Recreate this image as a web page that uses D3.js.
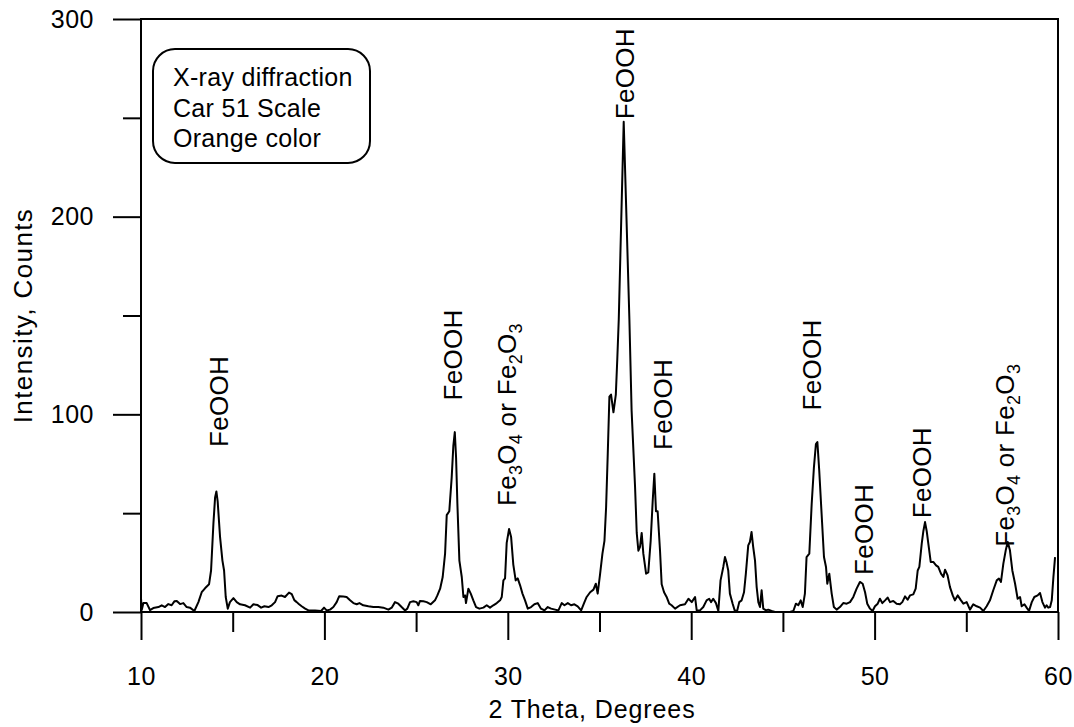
<!DOCTYPE html>
<html>
<head>
<meta charset="utf-8">
<script src="https://cdn.jsdelivr.net/npm/d3@7/dist/d3.min.js"></script>
<style>
  body { margin: 0; background: #fff; }
  svg { display: block; font-family: Arial, "Liberation Sans", sans-serif; }
  .tick text { font-size: 25px; fill: #000; }
  .tick line { stroke: #000; stroke-width: 2px; }
</style>
</head>
<body>
<script>
var
    width = 1074,
    height = 727;

// 2 theta positions and counts
var twoTheta = [10.0,10.04,10.13,10.31,10.49,10.67,10.95,11.13,11.31,11.49,11.67,11.82,11.95,12.13,12.31,12.49,12.67,12.91,13.13,13.31,13.49,13.71,13.82,13.95,14.04,14.11,14.18,14.31,14.44,14.53,14.62,14.73,14.85,15.04,15.22,15.4,15.67,15.95,16.13,16.36,16.55,16.73,16.95,17.13,17.31,17.45,17.67,17.85,18.07,18.22,18.36,18.49,18.62,18.76,18.95,19.13,19.49,19.82,19.98,20.12,20.31,20.49,20.67,20.81,21.03,21.21,21.4,21.58,21.76,21.91,22.12,22.4,22.67,22.94,23.21,23.49,23.67,23.85,24.03,24.21,24.4,24.52,24.67,24.85,25.03,25.12,25.21,25.4,25.58,25.8,26.03,26.16,26.31,26.45,26.58,26.67,26.81,26.94,27.03,27.11,27.18,27.25,27.36,27.49,27.58,27.67,27.72,27.85,27.98,28.12,28.27,28.45,28.67,28.85,29.03,29.21,29.4,29.58,29.67,29.76,29.85,29.94,30.07,30.18,30.3,30.43,30.54,30.67,30.8,30.94,31.09,31.27,31.45,31.63,31.81,32.0,32.18,32.36,32.58,32.76,32.94,33.09,33.27,33.45,33.63,33.81,34.0,34.18,34.3,34.49,34.67,34.8,34.9,35.03,35.16,35.27,35.36,35.45,35.54,35.63,35.76,35.89,35.97,36.05,36.32,36.63,36.75,36.94,37.03,37.12,37.21,37.3,37.39,37.54,37.66,37.79,37.9,37.99,38.08,38.17,38.3,38.39,38.52,38.66,38.8,38.93,39.12,39.39,39.66,39.85,40.03,40.21,40.3,40.48,40.66,40.84,40.98,41.08,41.2,41.35,41.48,41.6,41.75,41.84,41.93,42.02,42.11,42.26,42.38,42.51,42.62,42.75,42.88,42.98,43.11,43.2,43.29,43.38,43.48,43.57,43.66,43.75,43.84,43.93,44.08,44.2,44.38,44.57,45.38,45.57,45.71,45.84,45.97,46.08,46.2,46.29,46.44,46.57,46.69,46.8,46.88,46.98,47.11,47.24,47.35,47.42,47.53,47.66,47.78,47.93,48.11,48.29,48.48,48.66,48.84,49.02,49.2,49.35,49.48,49.6,49.75,49.89,50.02,50.17,50.29,50.42,50.57,50.71,50.84,51.02,51.2,51.38,51.51,51.66,51.8,51.93,52.11,52.24,52.35,52.44,52.57,52.66,52.75,52.84,52.93,53.06,53.2,53.35,53.47,53.62,53.75,53.84,53.98,54.11,54.26,54.38,54.53,54.71,54.84,55.02,55.2,55.38,55.57,55.75,55.93,56.11,56.29,56.47,56.66,56.78,56.89,57.02,57.15,57.26,57.38,57.51,57.66,57.8,57.93,58.02,58.17,58.29,58.42,58.57,58.71,58.89,59.02,59.15,59.29,59.38,59.47,59.57,59.66,59.75,59.84];
var counts = [7,1,4.5,4.5,1,2,2.5,3.4,2.5,4,3.4,5.4,5.6,4,4.5,2.5,2.2,0.5,5,10,12,14,21,45,58,61,56,38,26,21,7.6,1.7,5,7,5,3.9,3.4,2.2,3.9,3.5,2.2,2.9,2.5,3.4,5,8,8.3,7.6,9.8,9,6,5,3.9,2.9,1.7,0.8,0.8,0.5,2.2,0.8,1.2,2.5,5,8,7.8,7.6,5.9,4.5,3.9,4.5,3.4,2.9,2.5,2.5,2.2,1.2,2.2,5,4.2,2.5,0.8,1.7,5,5.4,5,3.4,5.6,5.4,5,3.9,5.9,8.4,11.8,17.7,29.5,49,51,68,84,91,78,55,26,17.7,7.6,8.4,4.5,11.8,9.3,5.9,2.5,1.7,2.2,3.4,2.2,3.4,4.5,5.9,7.6,16,17,35,42,38,24,16,17,13.5,9.3,5.9,1.7,2.5,3.9,4.5,1.7,0.8,2.5,1.7,1.2,0.8,4.5,3.4,4.5,3.4,3.9,2.9,0.8,5,7.6,10,11.3,14.3,9.3,19,29.5,36,53,80,109,110,101,110,128,148,248,148,102,63,40,31,33,40,29.5,19.4,20,36,56,70,51,51,31,14,10,7.6,4.2,3.4,1.7,3.4,3.9,6.7,5,7.6,0.8,0.8,2.5,5.9,6.7,5,6.7,4.5,0.5,16,22.8,27.8,25,21,9.3,4.2,0.5,0.8,5,5.9,10,19.4,33.7,35.4,40.5,33,26,12.6,5,2.5,11,1.7,0.8,1.2,0.5,0,0,0.5,4.2,3.4,5.9,2.5,9.3,27.8,29.5,54.8,73,85,86,71.7,49.7,27.8,22.8,14.3,19.4,9.3,2.5,1.2,2.5,4.5,4.2,5,7.6,11.8,15.2,14.3,10,4.2,1.7,0.5,2.9,4.2,6.7,4.5,5.9,7.3,5,5.6,4.2,3.9,5,7.9,6.2,8.4,8.9,11.8,21,22.8,34.6,41,45.5,41,34.6,25.3,25.3,23.6,22.8,19.4,17.7,21.4,18.5,12.6,8.4,5.9,8.4,5.9,4.2,5,1.2,3.9,2.9,2.2,0.5,2.9,5.9,11,16,16.9,15.2,24.5,31.2,35.4,31.2,21,14.3,6.7,7.6,2.9,3.9,2.2,0.5,5,7.6,8.4,9.6,5,2.2,3.4,2.2,2.5,5.9,17.7,27.8];

// peak labels: where the bottom of each rotated label sits
var peakText = ["FeOOH","FeOOH","Fe3O4 or Fe2O3","FeOOH","FeOOH","FeOOH","FeOOH","FeOOH","Fe3O4 or Fe2O3"];
var peakX = [14.25,27.0,29.96,36.39,38.46,46.59,49.42,52.58,57.11];
var peakY = [83.5,107,53.6,249.3,82,102,18.7,47.4,33];

var boxLines = ["X-ray diffraction","Car 51 Scale","Orange color"];

var xMajor = [10,20,30,40,50,60],
    xMinor = [15,25,35,45,55],
    yMajor = [0,100,200,300],
    yMinor = [50,150,250];

var svg = d3.select('body')
    .append('svg')
    .attr('width', width)
    .attr('height', height);

var x = d3.scaleLinear().domain([10, 60]).range([141, 1058]);
var y = d3.scaleLinear().domain([0, 300]).range([612, 19]);

// frame
svg.append("rect")
    .attr("x", x(10)).attr("y", y(300))
    .attr("width", x(60) - x(10)).attr("height", y(0) - y(300))
    .attr("fill", "none").attr("stroke", "#000").attr("stroke-width", 2);

// x axis, major + minor ticks
svg.append("g")
    .attr("transform", "translate(0," + y(0) + ")")
    .call(d3.axisBottom(x).tickValues(xMajor).tickSize(28).tickPadding(27).tickFormat(d3.format("d")))
    .call(function(g) { g.select(".domain").remove(); });
svg.append("g")
    .attr("transform", "translate(0," + y(0) + ")")
    .call(d3.axisBottom(x).tickValues(xMinor).tickSize(20).tickFormat(""))
    .call(function(g) { g.select(".domain").remove(); });

// y axis
svg.append("g")
    .attr("transform", "translate(" + x(10) + ",0)")
    .call(d3.axisLeft(y).tickValues(yMajor).tickSize(28).tickPadding(19).tickFormat(d3.format("d")))
    .call(function(g) { g.select(".domain").remove(); });
svg.append("g")
    .attr("transform", "translate(" + x(10) + ",0)")
    .call(d3.axisLeft(y).tickValues(yMinor).tickSize(18).tickFormat(""))
    .call(function(g) { g.select(".domain").remove(); });

svg.selectAll(".tick text").attr("font-family", null).style("letter-spacing", "0.5px");

// axis titles
svg.append("text")
    .attr("x", 592).attr("y", 718)
    .attr("text-anchor", "middle")
    .style("font-size", "25px")
    .style("letter-spacing", "0.9px")
    .text("2 Theta, Degrees");

svg.append("text")
    .attr("transform", "translate(32," + ((y(0) + y(300)) / 2) + ") rotate(-90)")
    .attr("text-anchor", "middle")
    .style("font-size", "26px")
    .style("letter-spacing", "1.4px")
    .text("Intensity, Counts");

// the scan
var line = d3.line()
    .x(function(d, i) { return x(twoTheta[i]); })
    .y(function(d) { return y(d); });

svg.append("path")
    .datum(counts)
    .attr("d", line)
    .attr("fill", "none")
    .attr("stroke", "#000")
    .attr("stroke-width", 2)
    .attr("stroke-linejoin", "round");

// peak labels, rotated, subscripts for the oxide formulas
var lbl = svg.append("g").selectAll("text")
    .data(peakText)
    .enter().append("text")
    .attr("transform", function(d, i) {
        return "translate(" + x(peakX[i]) + "," + y(peakY[i]) + ") rotate(-90)";
    })
    .attr("dy", "0.36em")
    .style("font-size", "26px")
    .style("letter-spacing", "0.3px");

lbl.each(function(d) {
    var t = d3.select(this);
    // split into plain runs and digit subscripts
    d.split(/(\d)/).forEach(function(part, k) {
        if (!part) return;
        if (k % 2 == 1) {
            t.append("tspan").attr("dy", 6).style("font-size", "18px").text(part);
        } else {
            var s = t.append("tspan").text(part);
            if (k > 0) s.attr("dy", -6);
        }
    });
});

// note box
svg.append("rect")
    .attr("x", 153).attr("y", 49)
    .attr("width", 217).attr("height", 114)
    .attr("rx", 22).attr("ry", 22)
    .attr("fill", "#fff").attr("stroke", "#000").attr("stroke-width", 2);

svg.append("g").selectAll("text")
    .data(boxLines)
    .enter().append("text")
    .attr("x", 173)
    .attr("y", function(d, i) { return 86 + i * 30.5; })
    .style("font-size", "25px")
    .style("letter-spacing", "0.3px")
    .text(function(d) { return d; });
</script>
</body>
</html>
